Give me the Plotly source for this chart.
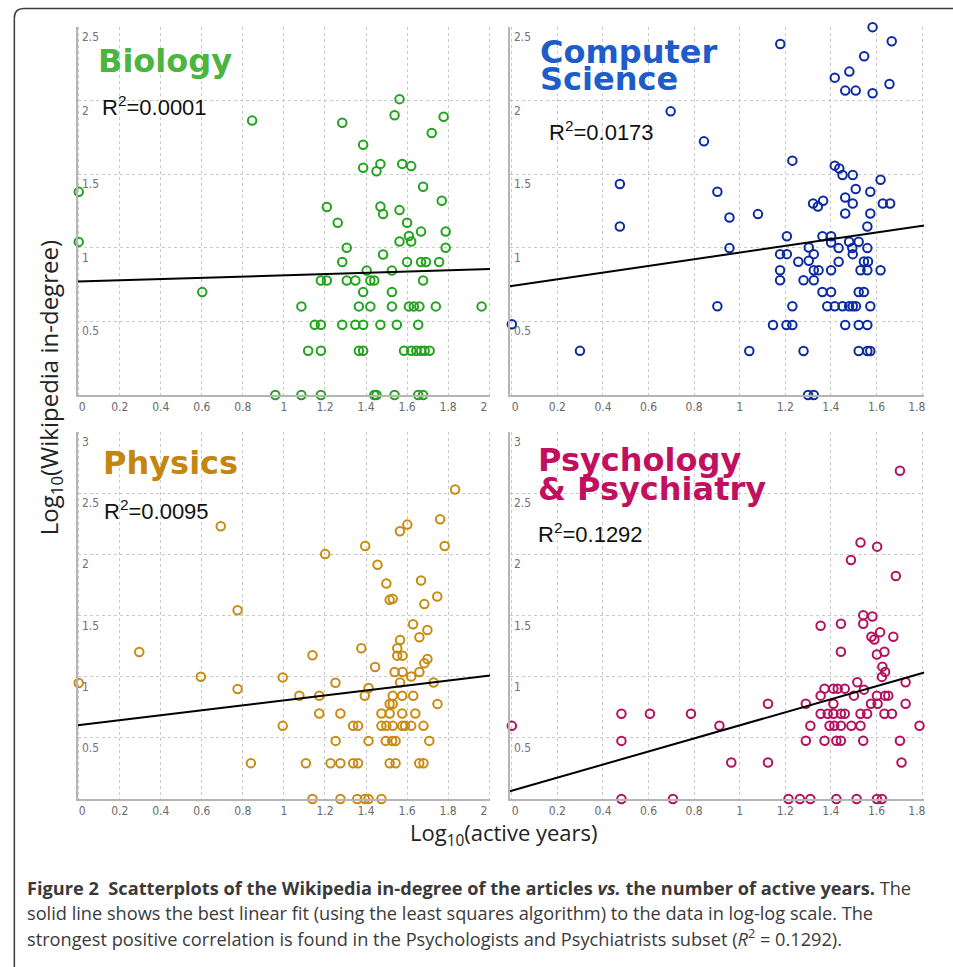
import plotly.graph_objects as go

W, H = 953, 967

# ---------------- data (log10 values) ----------------
bio_x = [0.845, 0, 0, 0.602, 0.958,
         1.563, 1.539, 1.778, 1.284, 1.72, 1.386, 1.386, 1.47, 1.451, 1.576, 1.62, 1.678, 1.209, 1.47, 1.483,
         1.563, 1.769, 1.262, 1.6, 1.668, 1.788, 1.609, 1.563, 1.62, 1.306, 1.788, 1.284, 1.483, 1.6, 1.668,
         1.692, 1.756, 1.403, 1.526, 1.18, 1.209, 1.306, 1.348, 1.421, 1.44, 1.678, 1.386, 1.526, 1.085, 1.365,
         1.421, 1.526, 1.609, 1.633, 1.66, 1.74, 1.963, 1.15, 1.18, 1.284, 1.348, 1.386, 1.47, 1.55, 1.654,
         1.118, 1.18, 1.365, 1.386, 1.585, 1.62, 1.645, 1.668, 1.686, 1.71, 1.085, 1.18, 1.44, 1.451, 1.539,
         1.654, 1.678]
bio_y = [1.864, 1.38, 1.04, 0.699, 0,
         2.01, 1.90, 1.89, 1.85, 1.78, 1.70, 1.544, 1.57, 1.52, 1.57, 1.555, 1.415, 1.277, 1.28, 1.23,
         1.256, 1.32, 1.17, 1.17, 1.11, 1.11, 1.08, 1.043, 1.043, 1.0, 1.0, 0.903, 0.954, 0.903, 0.903,
         0.903, 0.903, 0.845, 0.845, 0.778, 0.778, 0.778, 0.778, 0.778, 0.778, 0.778, 0.699, 0.699, 0.602, 0.602,
         0.602, 0.602, 0.602, 0.602, 0.602, 0.602, 0.602, 0.477, 0.477, 0.477, 0.477, 0.477, 0.477, 0.477, 0.477,
         0.301, 0.301, 0.301, 0.301, 0.301, 0.301, 0.301, 0.301, 0.301, 0.301, 0, 0, 0, 0, 0,
         0, 0]

cs_x = [0.697, 0.843, 0.474, 0.474, 0, 0.299,
        1.583, 1.667, 1.178, 1.546, 1.481, 1.417, 1.657, 1.463, 1.509, 1.583,
        1.231, 1.417, 1.437, 1.451, 1.496, 1.618, 1.509, 1.573, 0.902, 1.463, 1.496, 1.322, 1.343, 1.366,
        1.628, 1.66, 1.08, 1.463, 1.573, 0.955, 1.56, 1.207, 1.363, 1.401, 1.401, 1.48, 1.522, 1.434, 1.494,
        1.56, 0.955, 1.303, 1.325, 1.177, 1.207, 1.496, 1.257, 1.303, 1.434, 1.545, 1.563, 1.177, 1.325, 1.346,
        1.401, 1.53, 1.56, 1.618, 1.177, 1.28, 1.325, 1.363, 1.401, 1.522, 1.545, 0.902, 1.231, 1.384, 1.417,
        1.451, 1.48, 1.496, 1.51, 1.573, 1.146, 1.205, 1.231, 1.463, 1.522, 1.56, 1.042, 1.28, 1.522, 1.56,
        1.573, 1.30, 1.325]
cs_y = [1.927, 1.723, 1.433, 1.145, 0.481, 0.30,
        2.499, 2.403, 2.385, 2.301, 2.197, 2.156, 2.113, 2.068, 2.068, 2.05,
        1.592, 1.558, 1.539, 1.494, 1.494, 1.462, 1.399, 1.381, 1.381, 1.342, 1.301, 1.301, 1.281, 1.32,
        1.301, 1.301, 1.229, 1.233, 1.233, 1.206, 1.145, 1.079, 1.079, 1.079, 1.036, 1.041, 1.041, 0.998, 0.998,
        0.998, 0.998, 1.002, 0.957, 0.957, 0.957, 0.957, 0.905, 0.912, 0.905, 0.907, 0.907, 0.848, 0.848, 0.848,
        0.848, 0.848, 0.848, 0.848, 0.78, 0.78, 0.78, 0.70, 0.70, 0.70, 0.70, 0.603, 0.603, 0.603, 0.603,
        0.603, 0.603, 0.603, 0.603, 0.603, 0.476, 0.476, 0.476, 0.476, 0.476, 0.476, 0.299, 0.299, 0.299, 0.299,
        0.299, 0, 0]

phys_x = [0.692, 0.774, 0.295, 0.595, 0.774, 0, 0.839,
          1.834, 1.761, 1.601, 1.565, 1.396, 1.783, 1.201, 1.456, 1.499, 1.668, 1.515, 1.53, 1.747, 1.684,
          1.629, 1.699, 1.66, 1.566, 1.552, 1.377, 1.552, 1.578, 1.139, 1.699, 1.684, 1.444, 1.539, 1.578,
          1.66, 1.62, 0.994, 1.251, 1.566, 1.729, 1.412, 1.394, 1.075, 1.172, 1.53, 1.576, 1.63, 1.515, 1.53,
          1.748, 1.172, 1.275, 1.475, 1.515, 1.576, 1.64, 0.994, 1.337, 1.361, 1.475, 1.499, 1.53, 1.576, 1.59,
          1.62, 1.68, 1.252, 1.412, 1.496, 1.527, 1.544, 1.708, 1.107, 1.227, 1.275, 1.337, 1.361, 1.515, 1.544,
          1.659, 1.68, 1.139, 1.275, 1.357, 1.394, 1.412, 1.475]
phys_y = [2.23, 1.543, 1.202, 1.0, 0.899, 0.948, 0.293,
          2.53, 2.287, 2.243, 2.188, 2.068, 2.068, 2.002, 1.915, 1.762, 1.786, 1.628, 1.636, 1.655, 1.593,
          1.429, 1.382, 1.322, 1.3, 1.232, 1.232, 1.172, 1.172, 1.175, 1.144, 1.109, 1.079, 1.038, 1.038,
          1.038, 1.002, 0.994, 0.95, 0.953, 0.953, 0.907, 0.844, 0.844, 0.844, 0.844, 0.844, 0.844, 0.776, 0.776,
          0.776, 0.699, 0.699, 0.699, 0.699, 0.699, 0.699, 0.598, 0.598, 0.598, 0.598, 0.598, 0.598, 0.598, 0.598,
          0.598, 0.598, 0.475, 0.475, 0.475, 0.475, 0.475, 0.475, 0.292, 0.292, 0.292, 0.292, 0.292, 0.292, 0.292,
          0.292, 0.292, 0, 0, 0, 0, 0, 0]

psy_x = [0, 0.481, 0.606, 0.786, 0.481, 0.481, 0.707,
         1.703, 1.53, 1.603, 1.488, 1.685, 1.542, 1.582, 1.542, 1.355, 1.444, 1.616, 1.578, 1.591, 1.674,
         1.444, 1.602, 1.635, 1.626, 1.638, 1.624, 1.516, 1.728, 1.545, 1.372, 1.411, 1.43, 1.461, 1.355,
         1.501, 1.602, 1.638, 1.652, 1.124, 1.29, 1.411, 1.576, 1.605, 1.728, 1.355, 1.386, 1.411, 1.444,
         1.461, 1.53, 1.559, 1.635, 1.668, 0.911, 1.31, 1.394, 1.415, 1.444, 1.49, 1.53, 1.789, 1.29, 1.372,
         1.424, 1.444, 1.542, 1.703, 0.963, 1.124, 1.71, 1.214, 1.264, 1.31, 1.424, 1.513, 1.602, 1.624]
psy_y = [0.598, 0.697, 0.697, 0.697, 0.475, 0, 0,
         2.683, 2.096, 2.063, 1.954, 1.823, 1.503, 1.492, 1.432, 1.416, 1.432, 1.364, 1.326, 1.304, 1.326,
         1.203, 1.181, 1.203, 1.082, 1.039, 0.998, 0.954, 0.954, 0.894, 0.902, 0.902, 0.902, 0.902, 0.845,
         0.845, 0.845, 0.845, 0.845, 0.779, 0.779, 0.779, 0.779, 0.779, 0.779, 0.697, 0.697, 0.697, 0.697,
         0.697, 0.697, 0.697, 0.697, 0.697, 0.599, 0.599, 0.599, 0.599, 0.599, 0.599, 0.599, 0.599, 0.476, 0.476,
         0.476, 0.476, 0.476, 0.476, 0.298, 0.298, 0.298, 0, 0, 0, 0, 0, 0, 0]

# least-squares fit lines as drawn (intercept, slope)
fit_intercepts = [0.771, 0.741, 0.604, 0.068]
fit_slopes = [0.042, 0.2265, 0.202, 0.534]

panel_title_lines = [["Biology"], ["Computer", "Science"], ["Physics"], ["Psychology", "& Psychiatry"]]
r2_labels = ["0.0001", "0.0173", "0.0095", "0.1292"]
marker_colors = ["#21a31c", "#0b2aa3", "#c98a12", "#b3115e"]
title_colors = ["#4cb540", "#1d5cc9", "#c4860e", "#c0105f"]

x_ticks_a = [0, 0.2, 0.4, 0.6, 0.8, 1, 1.2, 1.4, 1.6, 1.8, 2]
x_ticks_b = [0, 0.2, 0.4, 0.6, 0.8, 1, 1.2, 1.4, 1.6, 1.8]
y_ticks_top = [0.5, 1, 1.5, 2, 2.5]
y_ticks_bot = [0.5, 1, 1.5, 2, 2.5, 3]

x_title = "Log<sub>10</sub>(active years)"
y_title = "Log<sub>10</sub>(Wikipedia in-degree)"
caption_1 = ("<b>Figure 2\u00a0\u00a0Scatterplots of the Wikipedia in-degree of the articles <i>vs.</i> "
             "the number of active years.</b> The")
caption_2 = ("solid line shows the best linear fit (using the least squares algorithm) to the data in "
             "log-log scale. The")
caption_3 = ("strongest positive correlation is found in the Psychologists and Psychiatrists subset "
             "(<i>R</i><sup>2</sup> = 0.1292).")

# ---------------- layout helpers (pixel -> paper) ----------------
def px_x(p):
    return p / W

def px_y(p):
    return 1 - p / H

# pixel boxes of the four plotting areas: (left, right, top, bottom)
boxes = [(73, 493, 27, 395), (513, 935, 27, 395), (73, 493, 432, 799), (513, 935, 432, 799)]
x_ranges = [[-0.005, 2.005], [-0.0086, 1.81], [-0.005, 2.005], [-0.0086, 1.81]]
y_ranges = [[0, 2.5], [0, 2.5], [0, 3], [0, 3]]
x_tick_sets = [x_ticks_a, x_ticks_b, x_ticks_a, x_ticks_b]
y_tick_sets = [y_ticks_top, y_ticks_top, y_ticks_bot, y_ticks_bot]
xs = [bio_x, cs_x, phys_x, psy_x]
ys = [bio_y, cs_y, phys_y, psy_y]

fig = go.Figure()
tick_family = "Liberation Sans Narrow, DejaVu Sans Condensed, Liberation Sans"
tick_font = dict(family=tick_family, size=12, color="#6a6a6a")
annotations = []

for i in range(4):
    sfx = "" if i == 0 else str(i + 1)
    xa, ya = "x" + sfx, "y" + sfx
    fig.add_trace(go.Scatter(
        x=xs[i], y=ys[i], mode="markers", xaxis=xa, yaxis=ya, cliponaxis=False,
        marker=dict(symbol="circle-open", size=8.5, color=marker_colors[i],
                    line=dict(width=2, color=marker_colors[i])),
        showlegend=False, hoverinfo="x+y"))
    x0, x1 = x_ranges[i]
    fig.add_trace(go.Scatter(
        x=[x0, x1], y=[fit_intercepts[i] + fit_slopes[i] * x0, fit_intercepts[i] + fit_slopes[i] * x1],
        mode="lines", xaxis=xa, yaxis=ya, line=dict(color="black", width=2),
        showlegend=False, hoverinfo="skip"))
    l, r, t, b = boxes[i]
    xt = x_tick_sets[i]
    xtext = [("%g" % v) for v in xt]
    xtext[0] = "\u00a0\u00a0" + xtext[0]
    xtext[-1] = xtext[-1] + "\u00a0\u00a0\u00a0"
    fig.layout["xaxis" + sfx] = dict(
        domain=[px_x(l), px_x(r)], range=x_ranges[i], anchor=ya,
        tickmode="array", tickvals=xt, ticktext=xtext, tickfont=tick_font,
        showgrid=True, gridcolor="#c9c9c9", griddash="dot", gridwidth=1,
        showline=True, linecolor="#b5b5b5", linewidth=2, zeroline=False, ticks="", fixedrange=True)
    fig.layout["yaxis" + sfx] = dict(
        domain=[px_y(b), px_y(t)], range=y_ranges[i], anchor=xa,
        tickmode="array", tickvals=y_tick_sets[i], showticklabels=False,
        showgrid=True, gridcolor="#c9c9c9", griddash="dot", gridwidth=1,
        showline=True, linecolor="#b5b5b5", linewidth=2, zeroline=False, ticks="", fixedrange=True)
    # y tick labels sit inside the plot, just under their grid line
    for v in y_tick_sets[i]:
        annotations.append(dict(
            text="%g" % v, xref=xa + " domain", yref=ya, x=0, y=v, xshift=2, yshift=-1,
            xanchor="left", yanchor="top", showarrow=False,
            font=dict(family=tick_family, size=12, color="#727272")))

title_left = [92, 542, 97, 540]
title_mid = [[61], [52, 79], [463], [460, 489]]
r2_pos = [(96, 106), (551, 131), (98, 510), (540, 533)]
for i in range(4):
    for line, ymid in zip(panel_title_lines[i], title_mid[i]):
        annotations.append(dict(
            text="<b>" + line + "</b>", xref="paper", yref="paper",
            x=px_x(title_left[i]), y=px_y(ymid), xanchor="left", yanchor="middle",
            showarrow=False, font=dict(family="DejaVu Sans", size=32, color=title_colors[i])))
    annotations.append(dict(
        text="R<sup>2</sup>=" + r2_labels[i], xref="paper", yref="paper",
        x=px_x(r2_pos[i][0]), y=px_y(r2_pos[i][1]), xanchor="left", yanchor="middle",
        showarrow=False, font=dict(family="Liberation Sans", size=22, color="#111111")))

annotations.append(dict(
    text=y_title, xref="paper", yref="paper",
    x=px_x(45), y=px_y(388), textangle=-90, showarrow=False, xanchor="center", yanchor="middle",
    font=dict(family="Open Sans", size=24, color="#222222")))
annotations.append(dict(
    text=x_title, xref="paper", yref="paper",
    x=px_x(507), y=px_y(834), showarrow=False, xanchor="center", yanchor="middle",
    font=dict(family="Open Sans", size=22, color="#222222")))

for txt, yy in [(caption_1, 888), (caption_2, 913), (caption_3, 937)]:
    annotations.append(dict(
        text=txt, xref="paper", yref="paper", x=px_x(19), y=px_y(yy),
        xanchor="left", yanchor="middle", showarrow=False, align="left",
        font=dict(family="Open Sans", size=18.2, color="#3a3a3a")))

# rounded frame around the figure (top-left corner visible, the rest runs off the page)
frame_path = "M {a},{b} L {a},{c} Q {a},{d} {e},{d} L {f},{d}".format(
    a=px_x(8.5), b=px_y(1000), c=px_y(18), d=px_y(8.5), e=px_x(18), f=px_x(1000))

fig.update_layout(
    width=W, height=H, margin=dict(l=0, r=0, t=0, b=0),
    paper_bgcolor="white", plot_bgcolor="white",
    annotations=annotations,
    shapes=[dict(type="path", path=frame_path, xref="paper", yref="paper",
                 line=dict(color="#3c3c3c", width=1.5))],
)

# the figure is exactly window-sized, so drop the page's default body margin
fig.write_html("out.html", config={"displayModeBar": False},
               post_script="document.body.style.margin='0';document.body.style.overflow='hidden';")
